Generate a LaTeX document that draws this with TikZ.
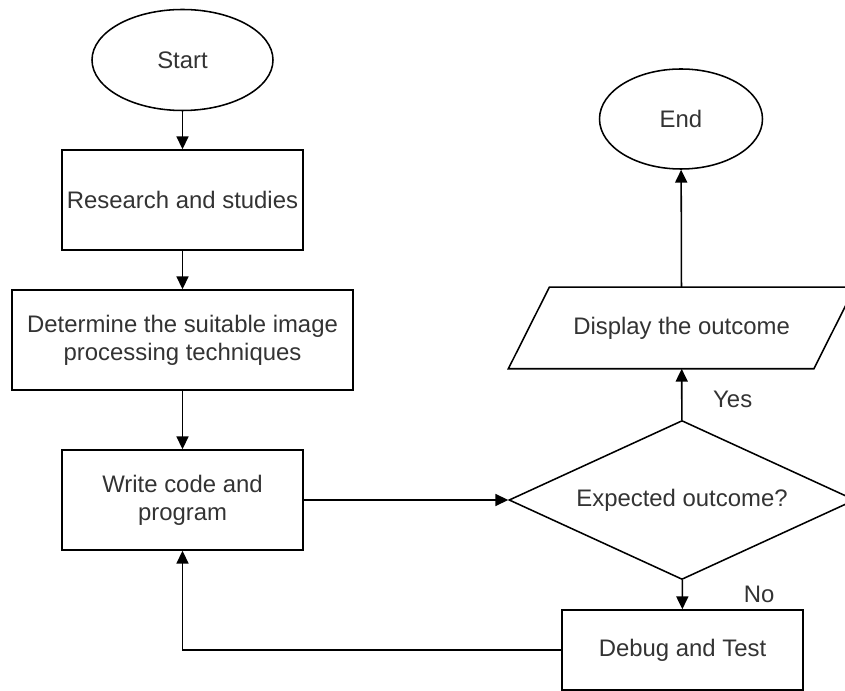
\documentclass[tikz,border=0pt]{standalone}
\usepackage{fontspec}
\setmainfont{Liberation Sans}
\usepackage{xcolor}
\usepackage{tikz}
\usetikzlibrary{positioning,arrows.meta,shapes.geometric}
\definecolor{txtgray}{HTML}{333333}

\begin{document}
\begin{tikzpicture}[
    line width=1.1pt,
    every node/.style={font=\fontsize{17}{20}\selectfont, text=txtgray, align=center},
    procbox/.style={draw, rectangle, inner sep=0pt, minimum width=6.025cm, minimum height=2.5cm},
    termnode/.style={draw, ellipse, inner sep=0pt},
    flow/.style={-{Triangle[length=0.32cm, width=0.3cm]}}
]
    \useasboundingbox (0,0) rectangle (21.125,-17.275);

    % Start
    \node[termnode, minimum width=4.525cm, minimum height=2.525cm] (start) at (4.5625,-1.5) {Start};

    % Left column
    \node[procbox] (research) at (4.5625,-5) {Research and studies};
    \node[procbox, minimum width=8.525cm] (determine) at (4.5625,-8.5) {
        Determine the suitable image\\
        processing techniques
    };
    \node[procbox] (write) at (4.5625,-12.5) {Write code and\\program};

    % Decision
    \node[draw, diamond, aspect=2.18, inner sep=0pt, minimum width=8.65cm, minimum height=3.975cm] (decide) at (17.05,-12.5) {Expected outcome?};

    % Output (slanted outline drawn round the text node)
    \node[inner sep=0pt, minimum width=7.6cm, minimum height=2cm] (display) at (17.04,-8.2) {Display the outcome};
    \draw ([xshift=-0.5125cm]display.south west) -- ([xshift=-0.5125cm]display.south east)
        -- ([xshift=0.5125cm]display.north east) -- ([xshift=0.5125cm]display.north west) -- cycle;

    % End
    \node[termnode, minimum width=4.075cm, minimum height=2.5cm] (finish) at (17.025,-2.975) {End};

    % Debug
    \node[procbox, minimum height=2cm] (debug) at (17.0625,-16.25) {Debug and Test};

    % Connectors
    \draw[flow] (start) -- (research);
    \draw[flow] (research) -- (determine);
    \draw[flow] (determine) -- (write);
    \draw[flow] (write) -- (decide);
    \draw[flow] (decide) -- node[pos=0.4, anchor=west, xshift=0.65cm] {Yes} (display);
    \draw[flow] (display) -- (finish);
    \draw[flow] (decide) -- node[midway, anchor=west, xshift=1.4cm] {No} (debug);
    \draw[flow] (debug.west) -| (write.south);
\end{tikzpicture}
\end{document}
